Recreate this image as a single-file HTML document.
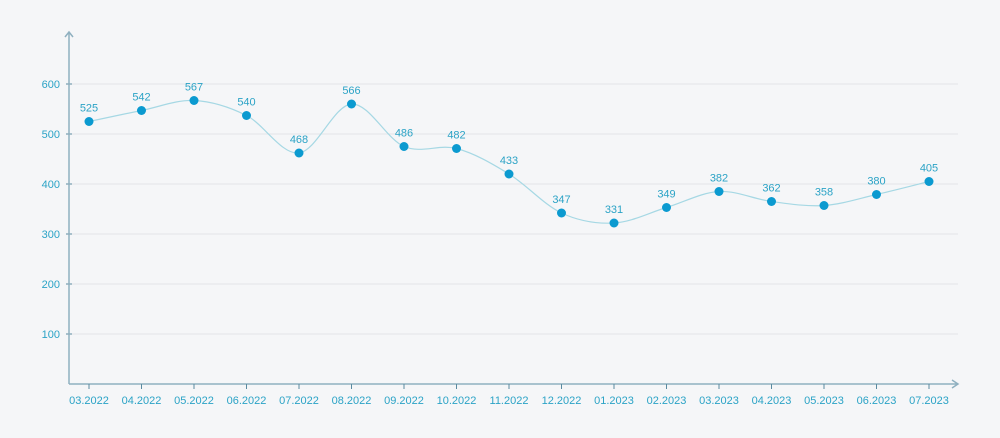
<!DOCTYPE html>
<html><head><meta charset="utf-8"><style>
body{margin:0;background:#f5f6f8;}
svg{display:block;font-family:"Liberation Sans",sans-serif;}
</style></head><body>
<svg id="chart" width="1000" height="438"></svg>
<script>
const categories=["03.2022","04.2022","05.2022","06.2022","07.2022","08.2022","09.2022","10.2022","11.2022","12.2022","01.2023","02.2023","03.2023","04.2023","05.2023","06.2023","07.2023"];
const values=[525,542,567,540,468,566,486,482,433,347,331,349,382,362,358,380,405];
const pointValues=[525,547,567,537,462,560,475,471,420,342,322,353,385,365,357,379,405];
const yTicks=[100,200,300,400,500,600];
const NS="http://www.w3.org/2000/svg";
const svg=document.getElementById('chart');
const x0=89,dx=52.5,yBase=384;
const xs=i=>x0+i*dx;
const ys=v=>yBase-v*0.5;
function mk(t,a,p){const e=document.createElementNS(NS,t);for(const k in a)e.setAttribute(k,a[k]);(p||svg).appendChild(e);return e;}
yTicks.forEach(t=>{
  const g=mk('line',{x1:69,x2:958,y1:ys(t),y2:ys(t),stroke:'#e2e4e8','stroke-width':1});
  
  
  const tk=mk('line',{x1:66,x2:72,y1:ys(t),y2:ys(t),stroke:'#5a8aa0','stroke-width':1});
  
  
  const l=mk('text',{x:60,y:ys(t)+4,'text-anchor':'end','font-size':11,fill:'#2ba3c6'});
  l.textContent=t;
  
  
});
const ya=mk('path',{d:'M69,384 V33 M65,37 L69,32 L73,37',stroke:'#8fb0c0','stroke-width':1.5,fill:'none'});


const xa=mk('path',{d:'M69,384 H957 M952,380 L958,384 L952,388',stroke:'#8fb0c0','stroke-width':1.5,fill:'none'});


categories.forEach((c,i)=>{
  const tk=mk('line',{x1:xs(i),x2:xs(i),y1:384,y2:389,stroke:'#5a8aa0','stroke-width':1});
  
  
  const l=mk('text',{x:xs(i),y:404,'text-anchor':'middle','font-size':11,fill:'#2ba3c6'});
  l.textContent=c;
  
  
});
const P=pointValues.map((v,i)=>[xs(i),ys(v)]);
let d='M'+P[0][0]+','+P[0][1];
for(let i=0;i<P.length-1;i++){
  const p0=P[Math.max(0,i-1)],p1=P[i],p2=P[i+1],p3=P[Math.min(P.length-1,i+2)];
  const c1=[p1[0]+(p2[0]-p0[0])/6,p1[1]+(p2[1]-p0[1])/6];
  const c2=[p2[0]-(p3[0]-p1[0])/6,p2[1]-(p3[1]-p1[1])/6];
  d+=` C${c1[0]},${c1[1]} ${c2[0]},${c2[1]} ${p2[0]},${p2[1]}`;
}
const line=mk('path',{d:d,stroke:'#a6d8e4','stroke-width':1.2,fill:'none'});


P.forEach((p,i)=>{
  const c=mk('circle',{cx:p[0],cy:p[1],r:4.5,fill:'#0b9ad0'});
  
  
  const t=mk('text',{x:p[0],y:p[1]-10,'text-anchor':'middle','font-size':11,fill:'#2ba3c6'});
  t.textContent=values[i];
  
  
});
</script>
</body></html>
